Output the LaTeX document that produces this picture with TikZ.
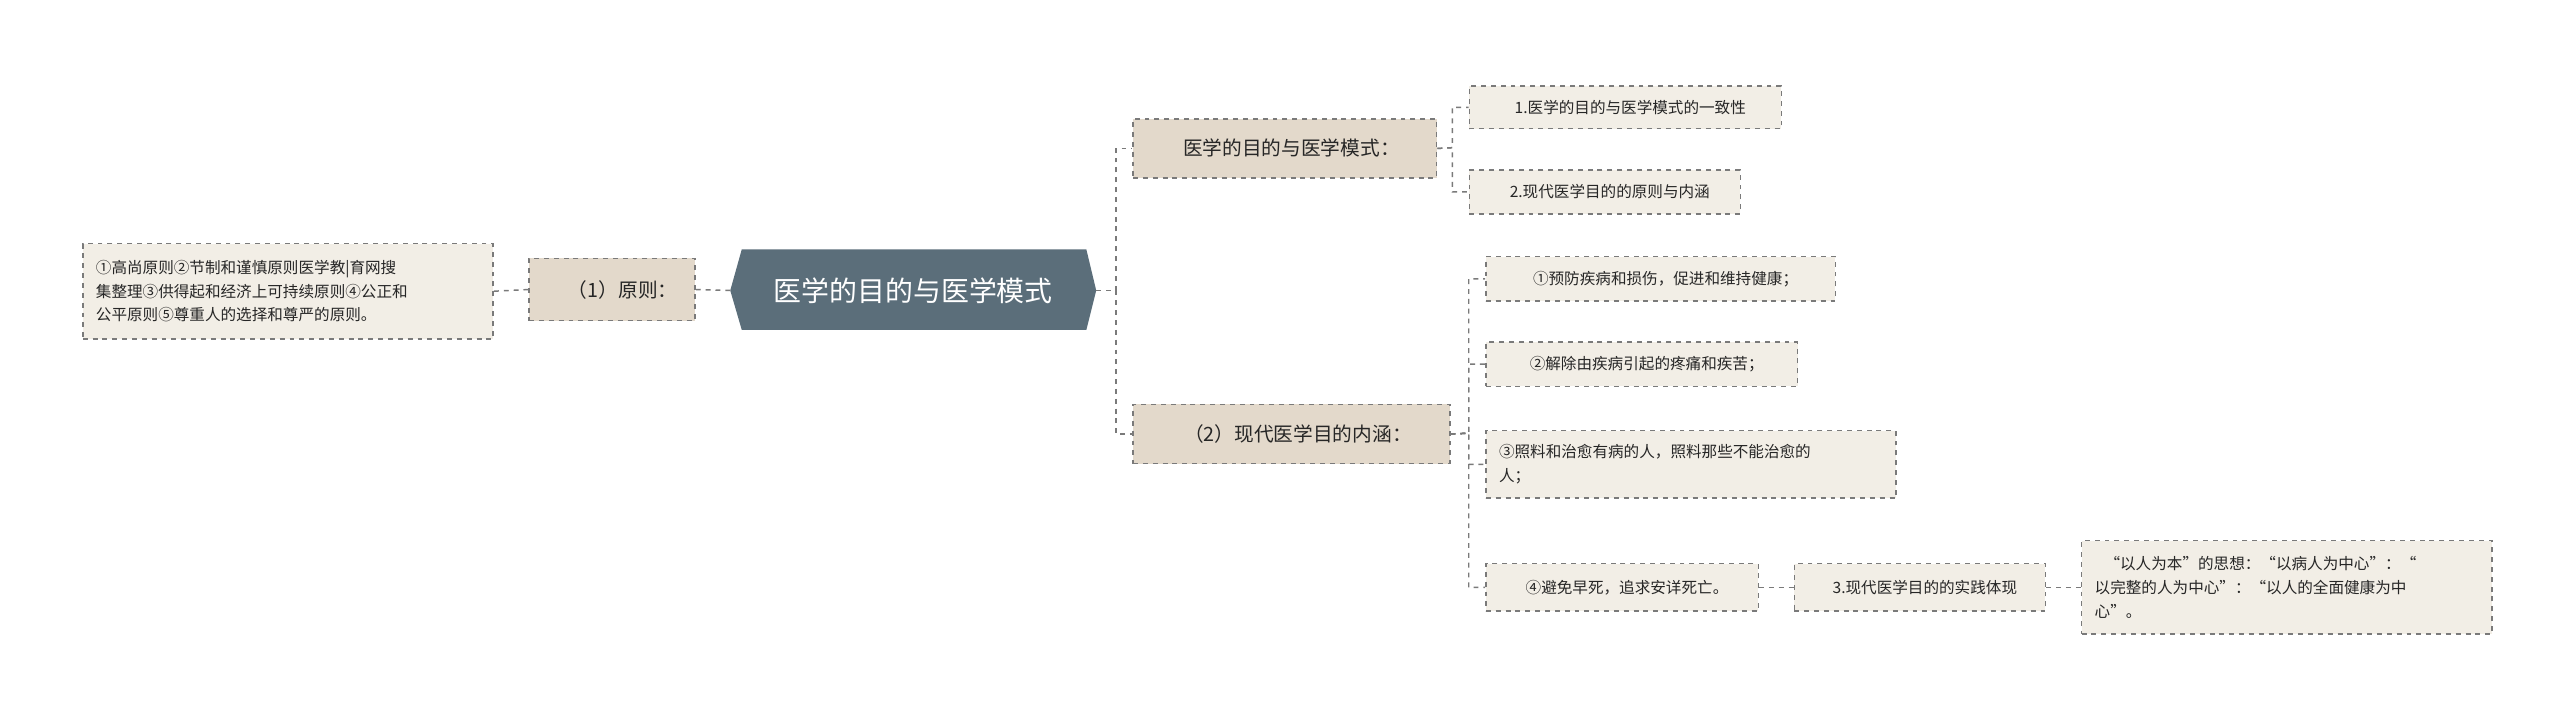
\documentclass[tikz,border=0pt]{standalone}
\usepackage{fontspec}
\setmainfont{Noto Sans CJK SC}
\usetikzlibrary{shapes.misc}
\definecolor{hub}{HTML}{5B6E7A}
\definecolor{mid}{HTML}{E3D9CB}
\definecolor{leaf}{HTML}{F2EEE6}
\definecolor{edge}{HTML}{7A7A7A}
\tikzset{
 base/.style={draw=edge,dashed,line width=0.9pt,anchor=north west,inner sep=0pt,text=black!85},
 midbox/.style={base,fill=mid,font=\fontsize{12}{14}\selectfont,align=left},
 leafbox/.style={base,fill=leaf,font=\fontsize{9.5}{14.5}\selectfont,align=left},
 conn/.style={draw=edge,dashed,line width=0.9pt},
}
\begin{document}
\begin{tikzpicture}[x=1pt,y=-1pt]
\useasboundingbox[fill=white] (0,0) rectangle (1560,436);
\fill[hub] (452,152) -- (662,152) -- (668,177) -- (662,201) -- (452,201) -- (445,177) -- cycle;
\node[text=white,font=\fontsize{17}{20}\selectfont] (hub) at (556.5,177) {医学的目的与医学模式};
\coordinate (hubE) at (668,177); \coordinate (hubW) at (445,177);
\node[midbox,minimum width=101pt,minimum height=38pt] (p1) at (322,157) {\hspace{13pt}（1）原则：};
\node[leafbox,minimum width=250pt,minimum height=58pt] (l1) at (50,148) {\hspace{6pt}\parbox{240pt}{①高尚原则②节制和谨慎原则医学教|育网搜\\集整理③供得起和经济上可持续原则④公正和\\公平原则⑤尊重人的选择和尊严的原则。}};
\node[midbox,minimum width=185pt,minimum height=36pt] (m1) at (690,72) {\hspace{8pt}医学的目的与医学模式：};
\node[midbox,minimum width=193pt,minimum height=36pt] (m2) at (690,246) {\hspace{8pt}（2）现代医学目的内涵：};
\node[leafbox,minimum width=190pt,minimum height=26pt] (a1) at (895,52) {\hspace{6pt}1.医学的目的与医学模式的一致性};
\node[leafbox,minimum width=165pt,minimum height=27pt] (a2) at (895,103) {\hspace{6pt}2.现代医学目的的原则与内涵};
\node[leafbox,minimum width=213pt,minimum height=27pt] (b1) at (905,156) {\hspace{6pt}①预防疾病和损伤，促进和维持健康；};
\node[leafbox,minimum width=190pt,minimum height=27pt] (b2) at (905,208) {\hspace{6pt}②解除由疾病引起的疼痛和疾苦；};
\node[leafbox,minimum width=250pt,minimum height=41pt] (b3) at (905,262) {\hspace{6pt}\parbox{240pt}{③照料和治愈有病的人，照料那些不能治愈的\\人；}};
\node[leafbox,minimum width=166pt,minimum height=29pt] (b4) at (905,343) {\hspace{6pt}④避免早死，追求安详死亡。};
\node[leafbox,minimum width=153pt,minimum height=29pt] (c1) at (1093,343) {\hspace{6pt}3.现代医学目的的实践体现};
\node[leafbox,minimum width=250pt,minimum height=57pt] (d1) at (1268,329) {\hspace{6pt}\parbox{240pt}{\hspace{6pt}“以人为本”的思想：“以病人为中心”：“\\以完整的人为中心”：“以人的全面健康为中\\心”。}};
\draw[conn] (hubW) -- (p1.east);
\draw[conn] (p1.west) -- (l1.east);
\draw[conn] (hubE) -- (680,177) |- (m1.west);
\draw[conn] (hubE) -- (680,177) |- (m2.west);
\draw[conn] (m1.east) -- (885,90) |- (a1.west);
\draw[conn] (m1.east) -- (885,90) |- (a2.west);
\foreach \n in {b1,b2,b3,b4} \draw[conn] (m2.east) -- (895,264) |- (\n.west);
\draw[conn] (b4.east) -- (c1.west);
\draw[conn] (c1.east) -- (d1.west);
\end{tikzpicture}
\end{document}
